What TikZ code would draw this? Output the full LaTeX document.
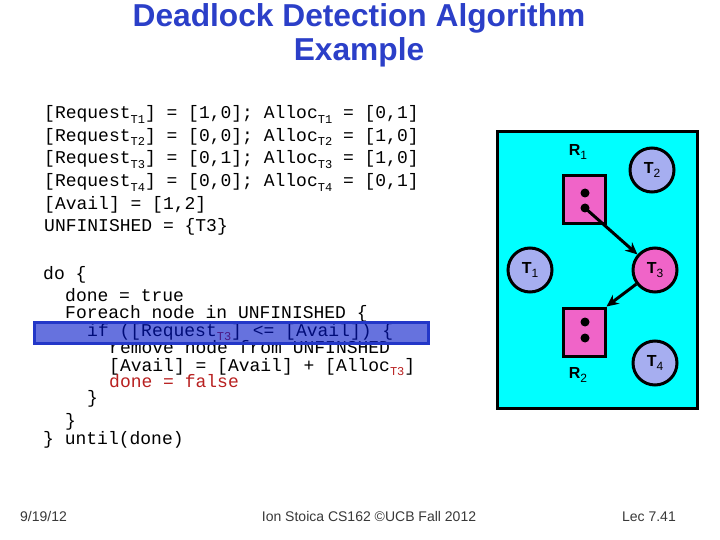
\documentclass[tikz,border=0pt]{standalone}
\usepackage{fontspec}
\setmainfont{Liberation Sans}
\setmonofont{Liberation Mono}
\usetikzlibrary{arrows.meta}
\definecolor{titleblue}{HTML}{2B3FC8}
\definecolor{codered}{HTML}{B82020}
\definecolor{footgray}{HTML}{383838}
\definecolor{panelcyan}{HTML}{00FFFF}
\definecolor{lavender}{HTML}{A6AEF0}
\definecolor{hotpink}{HTML}{F064C8}
\definecolor{hlfill}{RGB}{0,20,200}
\definecolor{hlborder}{RGB}{35,55,200}
\newcommand{\sbt}[1]{\raisebox{-0.45ex}{\fontsize{12}{12}\selectfont #1}}
\newcommand{\sbr}[1]{\raisebox{-0.45ex}{\fontsize{12}{12}\selectfont\color{codered}#1}}
\newcommand{\lblsub}[1]{\raisebox{-0.5ex}{\fontsize{12}{12}\selectfont\mdseries #1}}
\tikzset{
  code/.style={anchor=base west, inner sep=0pt, font=\ttfamily\fontsize{18}{18}\selectfont},
  titletext/.style={anchor=base, inner sep=0pt, text=titleblue, font=\bfseries\fontsize{31.7}{31.7}\selectfont},
  foot/.style={anchor=base, inner sep=0pt, text=footgray, font=\fontsize{14}{14}\selectfont},
  thread/.style={circle, draw=black, line width=3pt, fill=lavender, minimum size=44pt, inner sep=0pt, font=\bfseries\fontsize{16}{16}\selectfont},
  resource/.style={rectangle, draw=black, line width=3pt, fill=hotpink, minimum width=42pt, minimum height=48pt, inner sep=0pt},
  dot/.style={circle, fill=black, minimum size=9pt, inner sep=0pt},
  rlabel/.style={inner sep=0pt, font=\bfseries\fontsize{16}{16}\selectfont},
  edge/.style={line width=3pt, -{Stealth[length=12pt,width=11pt]}}
}
\begin{document}
\begin{tikzpicture}[x=1pt,y=-1pt]
\useasboundingbox (0,0) rectangle (720,540);
% title
\node[titletext] (t1) at (359,27) {Deadlock Detection Algorithm};
\node[titletext] (t2) at (359,61) {Example};
% state block
\node[code] (s1) at (44,119) {[Request\sbt{T1}] = [1,0]; Alloc\sbt{T1} = [0,1]};
\node[code] (s2) at (44,141.5) {[Request\sbt{T2}] = [0,0]; Alloc\sbt{T2} = [1,0]};
\node[code] (s3) at (44,164) {[Request\sbt{T3}] = [0,1]; Alloc\sbt{T3} = [1,0]};
\node[code] (s4) at (44,187) {[Request\sbt{T4}] = [0,0]; Alloc\sbt{T4} = [0,1]};
\node[code] (s5) at (44,209.5) {[Avail] = [1,2]};
\node[code] (s6) at (44,232) {UNFINISHED = \{T3\}};
% code block
\node[code] (c1) at (43,279) {do \{};
\node[code] (c2) at (65,301) {done = true};
\node[code] (c3) at (65,318) {Foreach node in UNFINISHED \{};
\node[code] (c4) at (87,336) {if ([Request\sbr{T3}] <= [Avail]) \{};
\node[code] (c5) at (109,353) {remove node from UNFINSHED};
\node[code] (c6) at (109,371) {[Avail] = [Avail] + [Alloc\sbr{T3}]};
\node[code, text=codered] (c7) at (109,387) {done = false};
\node[code] (c8) at (87,403) {\}};
\node[code] (c9) at (65,426) {\}};
\node[code] (c10) at (43,444) {\} until(done)};
% highlight
\fill[hlfill, opacity=0.6] (34,322) rectangle (428,343);
\draw[hlborder, line width=3pt] (34,322) rectangle (428,343);
% panel
\draw[fill=panelcyan, line width=3pt] (497,132) rectangle (697,408);
\node[rlabel] (r1l) at (578,152) {R\lblsub{1}};
\node[resource] (R1) at (584,200) {};
\node[dot] (d1) at (585,193) {};
\node[dot] (d2) at (585,208) {};
\node[thread] (T2) at (652,170) {T\lblsub{2}};
\node[thread] (T1) at (530,270) {T\lblsub{1}};
\node[thread, fill=hotpink] (T3) at (655,270) {T\lblsub{3}};
\node[resource] (R2) at (584,332) {};
\node[dot] (d3) at (585,322) {};
\node[dot] (d4) at (585,338) {};
\node[rlabel] (r2l) at (578,375) {R\lblsub{2}};
\node[thread] (T4) at (655,363) {T\lblsub{4}};
\draw[edge] (d2.center) -- (T3);
\draw[edge] (T3) -- (R2.north east);
% footer
\node[foot, anchor=base west] (f1) at (20,521) {9/19/12};
\node[foot] (f2) at (369,521) {Ion Stoica CS162 ©UCB Fall 2012};
\node[foot, anchor=base east] (f3) at (676,521) {Lec 7.41};
\end{tikzpicture}
\end{document}
